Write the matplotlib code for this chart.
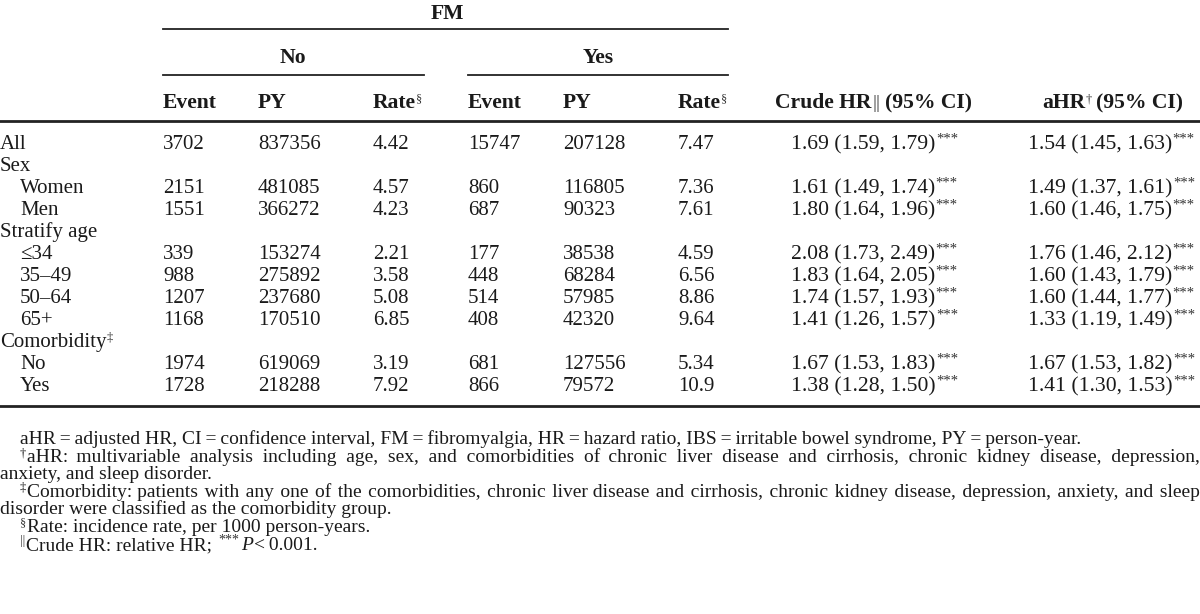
import matplotlib
matplotlib.use('Agg')
import matplotlib.pyplot as plt

plt.rcParams['font.family'] = ['Liberation Serif', 'DejaVu Serif']

# ---------------- data ----------------
row_labels = ['All', 'Sex', 'Women', 'Men', 'Stratify age', '≤34', '35–49', '50–64', '65+',
              'Comorbidity', 'No', 'Yes']
row_indent = [0, 0, 1, 1, 0, 1, 1, 1, 1, 0, 1, 1]
row_sup = ['', '', '', '', '', '', '', '', '', '‡', '', '']
event_no = [3702, None, 2151, 1551, None, 339, 988, 1207, 1168, None, 1974, 1728]
py_no = [837356, None, 481085, 366272, None, 153274, 275892, 237680, 170510, None, 619069, 218288]
rate_no = ['4.42', None, '4.57', '4.23', None, '2.21', '3.58', '5.08', '6.85', None, '3.19', '7.92']
event_yes = [15747, None, 860, 687, None, 177, 448, 514, 408, None, 681, 866]
py_yes = [207128, None, 116805, 90323, None, 38538, 68284, 57985, 42320, None, 127556, 79572]
rate_yes = ['7.47', None, '7.36', '7.61', None, '4.59', '6.56', '8.86', '9.64', None, '5.34', '10.9']
crude_hr = [(1.69, 1.59, 1.79), None, (1.61, 1.49, 1.74), (1.80, 1.64, 1.96), None,
            (2.08, 1.73, 2.49), (1.83, 1.64, 2.05), (1.74, 1.57, 1.93), (1.41, 1.26, 1.57), None,
            (1.67, 1.53, 1.83), (1.38, 1.28, 1.50)]
adj_hr = [(1.54, 1.45, 1.63), None, (1.49, 1.37, 1.61), (1.60, 1.46, 1.75), None,
          (1.76, 1.46, 2.12), (1.60, 1.43, 1.79), (1.60, 1.44, 1.77), (1.33, 1.19, 1.49), None,
          (1.67, 1.53, 1.82), (1.41, 1.30, 1.53)]
sig_mark = '***'

fn1 = "aHR\u2009=\u2009adjusted HR, CI\u2009=\u2009confidence interval, FM\u2009=\u2009fibromyalgia, HR\u2009=\u2009hazard ratio, IBS\u2009=\u2009irritable bowel syndrome, PY\u2009=\u2009person-year."
fn2a = "aHR: multivariable analysis including age, sex, and comorbidities of chronic liver disease and cirrhosis, chronic kidney disease, depression,"
fn2b = "anxiety, and sleep disorder."
fn3a = "Comorbidity: patients with any one of the comorbidities, chronic liver disease and cirrhosis, chronic kidney disease, depression, anxiety, and sleep"
fn3b = "disorder were classified as the comorbidity group."
fn4 = "Rate: incidence rate, per 1000 person-years."
fn5 = "Crude HR: relative HR; "

# ---------------- layout ----------------
W, H = 1200, 614
FS = 15.0      # table text
HFS = 15.6     # header / HR text
FFS = 14.0     # footnotes
SFS = 9.0      # superscripts
fig = plt.figure(figsize=(W / 100, H / 100), dpi=100)
ax = fig.add_axes([0, 0, 1, 1])
ax.set_xlim(0, W)
ax.set_ylim(H, 0)
ax.axis('off')
renderer = fig.canvas.get_renderer()
TXT_COLOR = '#1a1a1a'


def txt(x, y, s, fs=FS, ha='left', weight='normal', style='normal', color=TXT_COLOR):
    return ax.text(x, y, s, fontsize=fs, ha=ha, va='baseline', fontweight=weight,
                   fontstyle=style, color=color)


def width(t):
    return t.get_window_extent(renderer).width


def measure(s, fs=FS, weight='normal'):
    t = txt(0, 0, s, fs=fs, weight=weight)
    w = width(t)
    t.remove()
    return w


def with_sup(x, y, main, sup, weight='normal', fs=FS, sfs=SFS, sup_first=False,
             color='#333333', gap=0.0):
    if sup_first:
        s = txt(x, y - 6, sup, fs=sfs, color=color)
        xs = x + width(s) + 0.5
        m = txt(xs, y, main, fs=fs, weight=weight)
        return xs + width(m)
    m = txt(x, y, main, fs=fs, weight=weight)
    xe = x + width(m) + gap
    if sup:
        s = txt(xe, y - 6, sup, fs=sfs, color=color)
        xe += width(s)
    return xe


def justify(x0, x1, y, line, fs=FFS):
    """Single text string, widened with hair spaces to fill x0..x1."""
    words = line.split(' ')
    w0 = measure(line, fs=fs)
    hair = '\u200a'
    hw = measure('a' + hair * 10 + 'a', fs=fs) - measure('aa', fs=fs)
    hw /= 10.0
    extra = x1 - x0 - w0
    n_total = max(0, int(round(extra / hw))) if hw > 0 else 0
    gaps = len(words) - 1
    parts = [words[0]]
    for g in range(gaps):
        n = n_total * (g + 1) // gaps - n_total * g // gaps
        parts.append(' ' + hair * n + words[g + 1])
    txt(x0, y, ''.join(parts), fs=fs)


line_color = '#222222'

# header
txt(447, 19, 'FM', weight='bold', ha='center', fs=HFS)
ax.plot([163, 728], [29, 29], color=line_color, lw=1.3)
txt(293, 63, 'No', weight='bold', ha='center', fs=HFS)
txt(598, 63, 'Yes', weight='bold', ha='center', fs=HFS)
ax.plot([163, 424], [75, 75], color=line_color, lw=1.3)
ax.plot([468, 728], [75, 75], color=line_color, lw=1.3)

hy = 108
col_event = [163, 468]
col_py = [258, 563]
col_rate = [373, 678]
for k in range(2):
    txt(col_event[k], hy, 'Event', weight='bold', fs=HFS)
    txt(col_py[k], hy, 'PY', weight='bold', fs=HFS)
    with_sup(col_rate[k], hy, 'Rate', '§', weight='bold', fs=HFS)

xe = 775 + measure('Crude HR', fs=HFS, weight='bold')
txt(775, hy, 'Crude HR', weight='bold', fs=HFS)
bars = txt(xe + 1, hy, '||', weight='normal', fs=FS - 1, color='#444444')
txt(xe + 1 + width(bars) + 5, hy, '(95% CI)', weight='bold', fs=HFS)
xe = with_sup(1042, hy, 'aHR', '†', weight='bold', fs=HFS)
txt(xe + 5, hy, '(95% CI)', weight='bold', fs=HFS)

ax.plot([0, W], [121, 121], color=line_color, lw=2.0)

# body
y0 = 149
dy = 22
col_crude = 791
col_adj = 1028
for i, lab in enumerate(row_labels):
    y = y0 + i * dy
    x = 20 if row_indent[i] else 0
    with_sup(x, y, lab, row_sup[i])
    if event_no[i] is None:
        continue
    txt(col_event[0], y, str(event_no[i]))
    txt(col_py[0], y, str(py_no[i]))
    txt(col_rate[0], y, rate_no[i])
    txt(col_event[1], y, str(event_yes[i]))
    txt(col_py[1], y, str(py_yes[i]))
    txt(col_rate[1], y, rate_yes[i])
    c = crude_hr[i]
    with_sup(col_crude, y, f'{c[0]:.2f} ({c[1]:.2f}, {c[2]:.2f})', sig_mark,
             fs=HFS, sfs=10.5, gap=0.5)
    a = adj_hr[i]
    with_sup(col_adj, y, f'{a[0]:.2f} ({a[1]:.2f}, {a[2]:.2f})', sig_mark,
             fs=HFS, sfs=10.5, gap=0.5)

ax.plot([0, W], [406, 406], color=line_color, lw=2.0)

# footnotes
fy = [444, 462, 479, 497, 514, 532, 550]
txt(20, fy[0], fn1, fs=FFS)
s = txt(20, fy[1] - 6, '†', fs=SFS)
justify(20 + width(s) + 1, W, fy[1], fn2a)
txt(0, fy[2], fn2b, fs=FFS)
s = txt(20, fy[3] - 6, '‡', fs=SFS)
justify(20 + width(s) + 1, W, fy[3], fn3a)
txt(0, fy[4], fn3b, fs=FFS)
with_sup(20, fy[5], fn4, '§', fs=FFS, sup_first=True)
xe = with_sup(20, fy[6], fn5, '||', fs=FFS, sup_first=True)
s = txt(xe + 2, fy[6] - 6, sig_mark, fs=10, color='#333333')
xe = xe + 2 + width(s) + 1
p = txt(xe, fy[6], 'P', fs=FFS, style='italic')
xe += width(p) + 2
txt(xe, fy[6], '<\u20090.001.', fs=FFS)

fig.savefig('out.png', dpi=100)
